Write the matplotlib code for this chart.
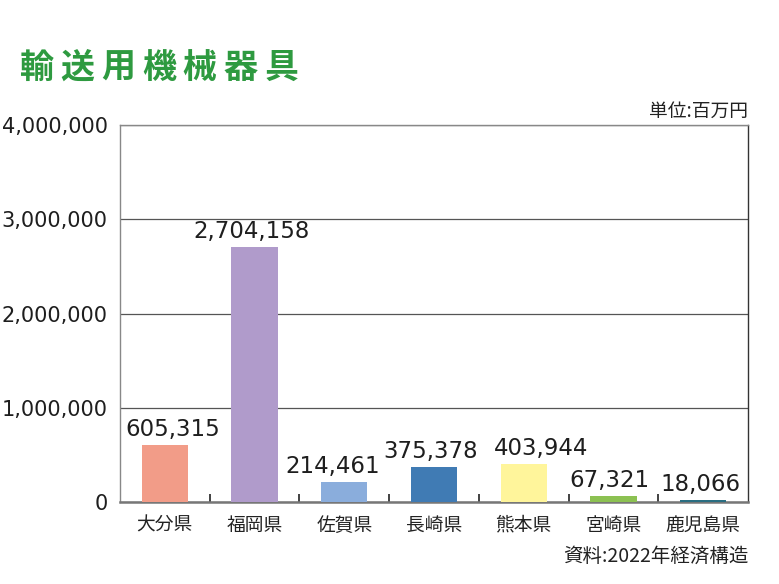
import numpy as np
import matplotlib.pyplot as plt

plt.rcParams['font.family'] = ['Noto Sans CJK JP', 'DejaVu Sans']

title = '輸送用機械器具'
prefectures = ['大分県', '福岡県', '佐賀県', '長崎県', '熊本県', '宮崎県', '鹿児島県']
values = [605315, 2704158, 214461, 375378, 403944, 67321, 18066]
bar_colors = ['#F29C88', '#B09BCB', '#8AADDC', '#407BB4', '#FFF59B', '#8CC152', '#2A6E82']
yticks = [0, 1000000, 2000000, 3000000, 4000000]

# labels in the original are nudged sideways so they don't collide (pixels)
label_dx = [8, -3, -12, -3, 17, -4, -3]

W, H = 779, 584
fig = plt.figure(figsize=(W / 100, H / 100), dpi=100)
ax = fig.add_axes([120 / W, 1 - 502 / H, 628 / W, 377 / H])

x = np.arange(len(prefectures))
ax.bar(x, values, width=0.515, color=bar_colors, zorder=3)
for xi, v, dx in zip(x, values, label_dx):
    ax.annotate(f'{v:,}', (xi, v), xytext=(dx * 0.72, 6.5), textcoords='offset points',
                ha='center', va='baseline', fontsize=16.5, family='DejaVu Sans', color='#1e1e1e')

ax.set_xlim(-0.5, len(prefectures) - 0.5)
ax.set_ylim(0, 4000000)
ax.set_yticks(yticks)
ax.set_yticklabels([f'{t:,}' for t in yticks], fontsize=15, family='DejaVu Sans', color='#1e1e1e')
ax.tick_params(axis='y', length=0, pad=9)
ax.set_xticks(x)
ax.set_xticklabels(prefectures, fontsize=13.5, color='#222222')
ax.tick_params(axis='x', length=0, pad=9)
ax.set_xticks(np.arange(0.5, len(prefectures) - 1, 1), minor=True)
ax.tick_params(axis='x', which='minor', direction='in', length=5.5, width=1.3, color='#333333')

ax.yaxis.grid(True, color='#555555', linewidth=0.9, zorder=0)
for side in ['top', 'left', 'right']:
    ax.spines[side].set_color('#888888')
    ax.spines[side].set_linewidth(1.0)
ax.spines['right'].set_color('#333333')
ax.spines['bottom'].set_color('#777777')
ax.spines['bottom'].set_linewidth(1.8)

# title drawn one character at a time to get the wide letter spacing
for i, ch in enumerate(title):
    fig.text((20 + 40.7 * i) / W, 1 - 67.5 / H, ch, fontsize=24.5, fontweight='bold',
             color='#2E9A40', va='center', ha='left')
fig.text(748 / W, 1 - 111 / H, '単位:百万円', fontsize=13.5, ha='right', va='center', color='#222222')
fig.text(748 / W, 1 - 556 / H, '資料:2022年経済構造', fontsize=14, ha='right', va='center', color='#222222')

fig.savefig('out.png', dpi=100)
